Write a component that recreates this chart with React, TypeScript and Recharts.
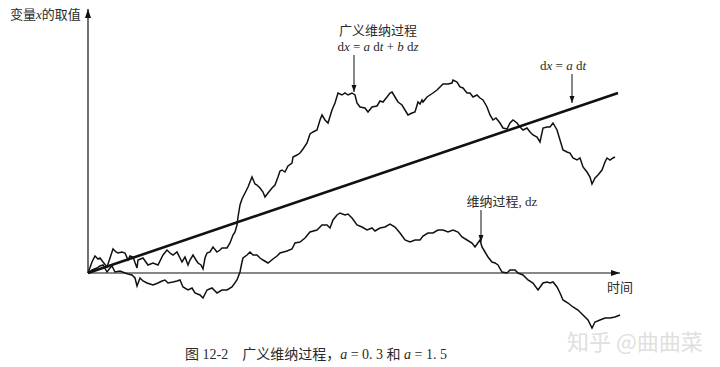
import React from "react";
import {
  LineChart,
  Line,
  XAxis,
  YAxis,
  ReferenceLine,
  ReferenceDot,
} from "recharts";

// time steps and values (arbitrary units, 0 at the origin)
const generalTime = [
  0, 4, 7, 10, 12, 15, 19, 22, 25, 28, 30, 34, 37, 40, 42, 45, 49, 50, 55, 60,
  65, 70, 75, 79, 82, 85, 89, 92, 94, 97, 100, 102, 105, 108, 110, 113, 115,
  117, 119, 122, 125, 129, 132, 134, 139, 142, 145, 147, 149, 150, 152, 154,
  157, 160, 164, 167, 169, 172, 175, 177, 180, 184, 187, 190, 192, 194, 197,
  200, 204, 205, 209, 212, 215, 219, 222, 225, 229, 232, 234, 237, 240, 244,
  247, 250, 254, 257, 260, 264, 267, 269, 272, 277, 280, 284, 289, 292, 295,
  299, 302, 304, 307, 310, 314, 317, 320, 324, 327, 330, 332, 334, 335, 339,
  342, 345, 349, 352, 355, 360, 364, 365, 369, 372, 375, 379, 382, 385, 389,
  392, 395, 399, 402, 405, 408, 412, 415, 419, 422, 425, 429, 432, 435, 439,
  442, 445, 449, 452, 455, 459, 462, 465, 469, 472, 475, 479, 482, 485, 489,
  492, 495, 499, 502, 504, 507, 510, 514, 517, 519, 522, 525, 527,
];
const generalValue = [
  0, 11, 17, 14, 15, 11, 6, 15, 24, 21, 20, 21, 20, 13, 17, 16, 5, 13, 15, 8,
  10, 8, 18, 23, 20, 18, 21, 15, 11, 16, 8, 13, 18, 13, 10, 8, 4, 15, 20, 21,
  26, 21, 23, 25, 25, 30, 38, 41, 48, 56, 68, 74, 80, 86, 96, 89, 88, 85, 81,
  76, 80, 85, 88, 96, 102, 103, 101, 107, 110, 116, 118, 120, 124, 130, 139,
  141, 143, 153, 158, 153, 150, 163, 170, 180, 178, 180, 178, 180, 178, 170,
  166, 165, 161, 166, 167, 172, 171, 176, 180, 181, 176, 171, 168, 163, 158,
  160, 161, 171, 169, 173, 171, 176, 178, 180, 183, 186, 189, 189, 190, 193,
  191, 186, 185, 180, 180, 176, 178, 175, 173, 166, 158, 153, 155, 150, 145,
  144, 150, 153, 150, 146, 143, 145, 141, 138, 136, 131, 145, 146, 146, 150,
  143, 133, 123, 121, 120, 115, 113, 115, 106, 101, 96, 89, 95, 98, 103, 111,
  115, 113, 115, 116,
];

const wienerTime = [
  0, 4, 9, 12, 15, 19, 22, 24, 27, 32, 37, 40, 44, 47, 49, 52, 55, 59, 62, 65,
  70, 74, 77, 80, 85, 89, 92, 95, 100, 104, 107, 112, 115, 119, 124, 129, 134,
  139, 144, 149, 152, 154, 155, 159, 162, 165, 169, 172, 175, 180, 185, 189,
  192, 199, 204, 207, 212, 217, 222, 229, 234, 239, 242, 245, 249, 252, 257,
  260, 264, 269, 274, 279, 284, 287, 292, 297, 302, 307, 312, 317, 322, 327,
  332, 335, 340, 345, 350, 355, 360, 365, 370, 374, 379, 384, 387, 392, 394,
  397, 400, 404, 407, 410, 414, 419, 422, 427, 430, 435, 440, 445, 450, 455,
  459, 462, 465, 469, 472, 475, 480, 485, 490, 495, 500, 504, 507, 512, 517,
  522, 527, 532,
];
const wienerValue = [
  0, 3, 5, 7, 8, 1, 5, 7, 1, 2, 0, -1, -2, -5, -13, -5, -8, -10, -11, -12, -10,
  -8, -7, -10, -9, -8, -7, -14, -17, -15, -20, -22, -25, -17, -15, -20, -17,
  -17, -14, -7, 1, 11, 15, 18, 21, 18, 18, 15, 13, 10, 14, 17, 20, 22, 24, 30,
  31, 35, 41, 43, 48, 48, 45, 53, 58, 60, 58, 59, 55, 48, 46, 43, 45, 42, 45,
  46, 49, 46, 40, 33, 31, 33, 33, 37, 40, 40, 43, 43, 41, 43, 41, 36, 33, 30,
  26, 33, 26, 21, 16, 11, 10, 8, 1, 0, 3, 3, 0, -2, -7, -10, -17, -10, -9, -10,
  -9, -14, -20, -27, -30, -34, -37, -42, -47, -55, -49, -47, -45, -45, -44,
  -42,
];

const driftTime = [0, 530];
const driftValue = [0, 180];

const toRows = (ts: number[], vs: number[]) =>
  ts.map((t, i) => ({ t, v: vs[i] }));

const generalData = toRows(generalTime, generalValue);
const wienerData = toRows(wienerTime, wienerValue);
const driftData = toRows(driftTime, driftValue);

const INK = "#111";
const TEXT = "#2a2a2a";
const FONT = '"Liberation Serif", "Noto Sans CJK SC", serif';

// arrow pointing down onto (cx, cy), with text lines above
function callout(len: number, dx: number, lines: React.ReactNode[]) {
  return (p: any) => {
    const { cx, cy } = p;
    return (
      <g>
        <line x1={cx} y1={cy - len} x2={cx} y2={cy} stroke={INK} strokeWidth={1} />
        <polygon
          points={`${cx},${cy} ${cx - 2.5},${cy - 7} ${cx + 2.5},${cy - 7}`}
          fill={INK}
        />
        {lines.map((l, i) => (
          <text
            key={i}
            x={cx + dx}
            y={cy - len - 4 - (lines.length - 1 - i) * 16}
            textAnchor="middle"
            fontSize={13}
            fontFamily={FONT}
            fill={TEXT}
          >
            {l}
          </text>
        ))}
      </g>
    );
  };
}

export default function App() {
  return (
    <div
      style={{
        position: "absolute",
        left: 0,
        top: 0,
        width: 720,
        height: 367,
        background: "#fff",
        fontFamily: FONT,
        color: TEXT,
      }}
    >
      <LineChart
        width={720}
        height={367}
        margin={{ top: 9, right: 97, bottom: 34, left: 88 }}
      >
        <XAxis dataKey="t" type="number" domain={[0, 535]} hide />
        <YAxis type="number" domain={[-60, 264]} hide />
        <ReferenceLine
          segment={[{ x: 0, y: 0 }, { x: 532, y: 0 }]}
          stroke={INK}
          strokeWidth={1.2}
        />
        <ReferenceLine
          segment={[{ x: 0, y: 0 }, { x: 0, y: 264 }]}
          stroke={INK}
          strokeWidth={1.2}
        />
        <ReferenceDot
          x={532}
          y={0}
          r={0}
          shape={(p: any) => (
            <polygon
              points={`${p.cx},${p.cy} ${p.cx - 9},${p.cy - 3} ${p.cx - 9},${p.cy + 3}`}
              fill={INK}
            />
          )}
        />
        <ReferenceDot
          x={0}
          y={264}
          r={0}
          shape={(p: any) => (
            <polygon
              points={`${p.cx},${p.cy} ${p.cx - 3},${p.cy + 9} ${p.cx + 3},${p.cy + 9}`}
              fill={INK}
            />
          )}
        />
        <Line
          data={driftData}
          dataKey="v"
          type="linear"
          dot={false}
          stroke={INK}
          strokeWidth={2.6}
          isAnimationActive={false}
        />
        <Line
          data={generalData}
          dataKey="v"
          type="linear"
          dot={false}
          stroke={INK}
          strokeWidth={1.5}
          isAnimationActive={false}
        />
        <Line
          data={wienerData}
          dataKey="v"
          type="linear"
          dot={false}
          stroke={INK}
          strokeWidth={1.5}
          isAnimationActive={false}
        />
        <ReferenceDot
          x={266}
          y={181}
          r={0}
          shape={callout(37, 24, [
            "广义维纳过程",
            <>
              d<tspan fontStyle="italic">x</tspan> = <tspan fontStyle="italic">a</tspan> d
              <tspan fontStyle="italic">t</tspan> + <tspan fontStyle="italic">b</tspan> d
              <tspan fontStyle="italic">z</tspan>
            </>,
          ])}
        />
        <ReferenceDot
          x={484}
          y={170}
          r={0}
          shape={callout(29, -9, [
            <>
              d<tspan fontStyle="italic">x</tspan> = <tspan fontStyle="italic">a</tspan> d
              <tspan fontStyle="italic">t</tspan>
            </>,
          ])}
        />
        <ReferenceDot
          x={393}
          y={31}
          r={0}
          shape={callout(32, 21, ["维纳过程, dz"])}
        />
      </LineChart>

      <div style={{ position: "absolute", left: 10, top: 4, fontSize: 13, whiteSpace: "pre" }}>
        变量<i>x</i>的取值
      </div>
      <div style={{ position: "absolute", left: 607, top: 277, fontSize: 13 }}>时间</div>
      <div
        style={{
          position: "absolute",
          left: 567,
          top: 324,
          fontSize: 22,
          color: "#e0e0e0",
          whiteSpace: "pre",
          fontFamily: '"Noto Sans CJK SC", sans-serif',
        }}
      >
        知乎 @曲曲菜
      </div>
      <div
        style={{
          position: "absolute",
          left: 185,
          top: 343,
          fontSize: 14,
          whiteSpace: "pre",
        }}
      >
        图 12-2{"    "}广义维纳过程，<i>a</i> = 0. 3 和 <i>a</i> = 1. 5
      </div>
    </div>
  );
}
